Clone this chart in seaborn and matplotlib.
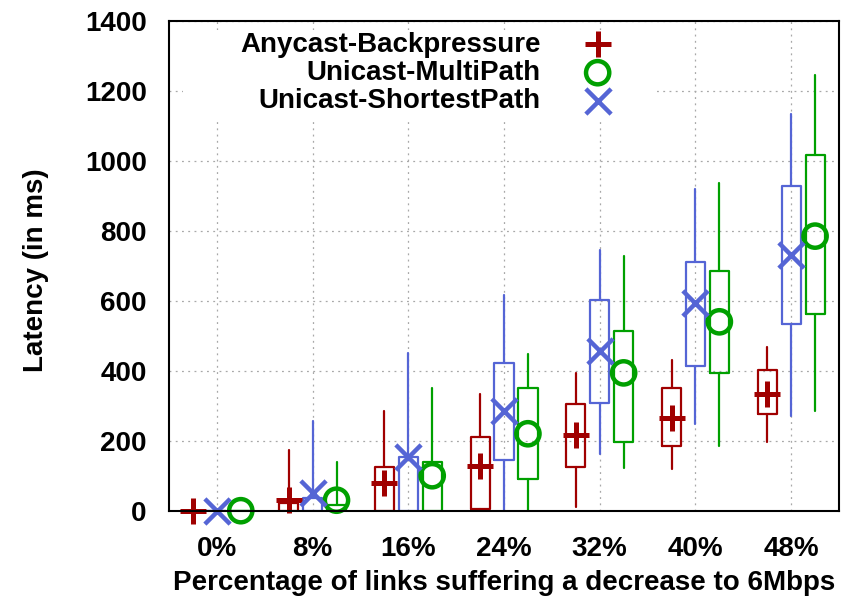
import matplotlib
matplotlib.use("Agg")
import matplotlib.pyplot as plt
import pandas as pd
import seaborn as sns
from matplotlib.patches import Rectangle

# Link-degradation levels on the x axis
categories = ["0%", "8%", "16%", "24%", "32%", "40%", "48%"]

# Latency statistics (ms) per routing scheme: mean, quartiles, whisker ends
backpressure_mean = [0, 32, 78, 128, 216, 264, 335]
backpressure_q1 = [0, 0, 0, 5, 126, 186, 276]
backpressure_q3 = [0, 22, 125, 211, 305, 351, 402]
backpressure_min = [0, 0, 0, 0, 10, 118, 195]
backpressure_max = [0, 173, 284, 335, 395, 431, 467]

multipath_mean = [0, 30, 100, 220, 394, 540, 785]
multipath_q1 = [0, 0, 0, 91, 197, 393, 561]
multipath_q3 = [0, 15, 138, 351, 514, 685, 1018]
multipath_min = [0, 0, 0, 0, 123, 186, 285]
multipath_max = [0, 138, 350, 448, 727, 937, 1246]

shortest_mean = [0, 52, 154, 285, 457, 593, 730]
shortest_q1 = [0, 0, 0, 145, 309, 413, 535]
shortest_q3 = [0, 36, 154, 423, 602, 711, 928]
shortest_min = [0, 0, 0, 0, 162, 247, 271]
shortest_max = [0, 257, 452, 618, 744, 921, 1133]

series_names = ["Anycast-Backpressure", "Unicast-MultiPath", "Unicast-ShortestPath"]

RED = "#a00000"
GREEN = "#00a000"
BLUE = "#5565d5"

sns.set_theme(style="white")
plt.rcParams["font.family"] = ["Liberation Sans", "DejaVu Sans"]
plt.rcParams["font.weight"] = "bold"
plt.rcParams["text.color"] = "black"
plt.rcParams["axes.labelcolor"] = "black"

FS = 20

fig = plt.figure(figsize=(8.43, 5.99), dpi=100)
ax = fig.add_axes([169 / 843, 1 - 510.7 / 599, 670 / 843, 489.7 / 599])

series = [
    (series_names[0], -0.25, RED, backpressure_mean, backpressure_q1, backpressure_q3,
     backpressure_min, backpressure_max),
    (series_names[2], 0.0, BLUE, shortest_mean, shortest_q1, shortest_q3,
     shortest_min, shortest_max),
    (series_names[1], 0.25, GREEN, multipath_mean, multipath_q1, multipath_q3,
     multipath_min, multipath_max),
]

# Boxes (quartiles) and whiskers (min / max)
for name, off, col, mean, q1, q3, lo, hi in series:
    stats = [
        {"med": a, "q1": a, "q3": b, "whislo": c, "whishi": d, "fliers": []}
        for a, b, c, d in zip(q1, q3, lo, hi)
    ]
    ax.bxp(
        stats,
        positions=[i + off for i in range(len(categories))],
        widths=0.2,
        showcaps=False,
        showfliers=False,
        manage_ticks=False,
        boxprops=dict(color=col, linewidth=1.6),
        whiskerprops=dict(color=col, linewidth=1.6),
        medianprops=dict(visible=False),
        zorder=2,
    )

# Mean markers
frames = {}
for name, off, col, mean, *_ in series:
    frames[name] = pd.DataFrame(
        {"pos": [i + off for i in range(len(categories))], "latency": mean}
    )

sns.scatterplot(data=frames[series_names[0]], x="pos", y="latency", ax=ax,
                marker="+", s=340, linewidth=3.6, color=RED, zorder=4,
                clip_on=False, legend=False)
sns.scatterplot(data=frames[series_names[1]], x="pos", y="latency", ax=ax,
                marker="o", s=280, linewidth=3.2, facecolors="none",
                edgecolor=GREEN, color=GREEN, zorder=4, clip_on=False,
                legend=False)
sns.scatterplot(data=frames[series_names[2]], x="pos", y="latency", ax=ax,
                marker="x", s=330, linewidth=3.2, color=BLUE, zorder=4,
                clip_on=False, legend=False)

colls = ax.collections[-3:]

ax.set_xlim(-0.5, 6.5)
ax.set_ylim(0, 1400)
ax.set_xticks(range(len(categories)))
ax.set_xticklabels(categories)
ax.set_yticks(range(0, 1401, 200))

ax.set_axisbelow(True)
ax.grid(True, color="#a8a8a8", linestyle=(0, (1.5, 3.5)), linewidth=0.9)

for sp in ax.spines.values():
    sp.set_visible(True)
    sp.set_color("black")
    sp.set_linewidth(1.5)
    sp.set_zorder(5)

ax.tick_params(axis="both", direction="in", length=4.5, width=1.5,
               labelsize=FS, colors="black")
ax.tick_params(axis="x", pad=18)
ax.tick_params(axis="y", pad=16)
ax.tick_params(top=False, right=False)

ax.set_xlabel("Percentage of links suffering a decrease to 6Mbps",
              fontsize=FS, fontweight="bold", color="black")
ax.set_ylabel("Latency (in ms)", fontsize=FS, fontweight="bold", color="black")
ax.xaxis.set_label_coords(0.5, -0.1475)
ax.xaxis.label.set_va("center")
ax.yaxis.set_label_coords(-0.198, 0.491)
ax.yaxis.label.set_va("center")

# Opaque key area
ax.add_patch(Rectangle((0.021, 0.797), 0.704, 0.184, transform=ax.transAxes,
                       facecolor="white", edgecolor="none", zorder=1))

leg = ax.legend(colls, series_names, loc="upper right",
                bbox_to_anchor=(0.6605, 0.978), markerfirst=False,
                frameon=False, handlelength=1.0,
                handletextpad=1.55, labelspacing=0.08, borderpad=0,
                borderaxespad=0, prop={"weight": "bold", "size": FS})
for t in leg.get_texts():
    t.set_color("black")

fig.savefig("out.png", dpi=100, facecolor="white")
